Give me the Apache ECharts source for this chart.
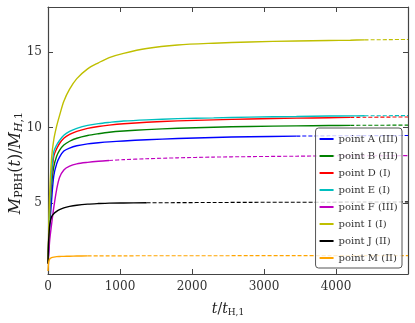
<!DOCTYPE html>
<html>
<head>
<meta charset="utf-8">
<script src="https://cdn.jsdelivr.net/npm/echarts@6/dist/echarts.min.js"></script>
<style>
  html, body { margin: 0; padding: 0; background: #fff; }
  #main { width: 415px; height: 323px; }
</style>
</head>
<body>
<div id="main"></div>
<script>
// 时间网格 t / t_H,1
var times = [0, 10, 25, 50, 80, 120, 160, 220, 300, 400, 550, 700, 850, 1050, 1370, 1800, 2300, 2800, 3450, 3900, 4200, 4400, 5000];

// M_PBH(t) / M_H,1 for each point
var pointA = [1.0, 2.0, 3.5, 5.2, 6.8, 7.6, 8.05, 8.45, 8.65, 8.8, 8.93, 9.0, 9.06, 9.12, 9.2, 9.28, 9.35, 9.4, 9.44, 9.46, 9.47, 9.47, 9.48];
var pointB = [1.0, 2.5, 4.3, 6.2, 7.4, 8.1, 8.5, 8.85, 9.1, 9.3, 9.48, 9.6, 9.7, 9.78, 9.87, 9.96, 10.03, 10.08, 10.12, 10.14, 10.15, 10.16, 10.17];
var pointD = [1.0, 2.7, 4.6, 6.7, 8.1, 8.6, 8.95, 9.3, 9.55, 9.75, 9.95, 10.08, 10.17, 10.26, 10.36, 10.45, 10.52, 10.58, 10.63, 10.66, 10.68, 10.69, 10.71];
var pointE = [1.0, 2.8, 4.8, 7.0, 8.4, 8.85, 9.15, 9.5, 9.75, 9.95, 10.15, 10.27, 10.35, 10.44, 10.52, 10.6, 10.65, 10.7, 10.74, 10.77, 10.78, 10.79, 10.8];
var pointF = [1.0, 1.6, 2.6, 3.6, 4.7, 5.9, 6.7, 7.2, 7.45, 7.6, 7.7, 7.77, 7.82, 7.88, 7.94, 8.0, 8.05, 8.08, 8.11, 8.13, 8.14, 8.14, 8.15];
var pointI = [1.0, 3.2, 5.8, 8.0, 9.2, 10.1, 10.8, 11.75, 12.55, 13.25, 13.9, 14.3, 14.65, 14.93, 15.25, 15.48, 15.6, 15.68, 15.75, 15.78, 15.8, 15.82, 15.85];
var pointJ = [1.0, 2.6, 3.6, 4.1, 4.3, 4.45, 4.56, 4.68, 4.78, 4.86, 4.93, 4.97, 5.0, 5.01, 5.02, 5.03, 5.04, 5.05, 5.06, 5.06, 5.07, 5.07, 5.08];
var pointM = [0.5, 1.1, 1.3, 1.38, 1.42, 1.45, 1.46, 1.47, 1.48, 1.49, 1.5, 1.5, 1.5, 1.5, 1.51, 1.51, 1.51, 1.52, 1.52, 1.52, 1.52, 1.52, 1.52];

// 模拟结束的时间 (之后是虚线)
var solidEnd = [3450, 4200, 4200, 4400, 850, 4400, 1370, 550];

var names = ['point A (III)', 'point B (III)', 'point D (I)', 'point E (I)', 'point F (III)', 'point I (I)', 'point J (II)', 'point M (II)'];
var colors = ['#0000ff', '#008000', '#ff0000', '#00bfbf', '#bf00bf', '#bfbf00', '#000000', '#ffa500'];
var values = [pointA, pointB, pointD, pointE, pointF, pointI, pointJ, pointM];

var xTicks = [0, 1000, 2000, 3000, 4000];
var yTicks = [5, 10, 15];

(function () {
  var myChart = echarts.init(document.getElementById('main'));
  var font = 'DejaVu Serif';
  var axisColor = '#444';

  var series = [];
  values.forEach(function (vals, k) {
    var solid = [], dashed = [];
    times.forEach(function (t, i) {
      if (t <= solidEnd[k]) solid.push([t, vals[i]]);
      if (t >= solidEnd[k]) dashed.push([t, vals[i]]);
    });
    series.push({
      name: names[k], type: 'line', data: solid,
      showSymbol: false, symbol: 'none', smooth: 0.3,
      lineStyle: { color: colors[k], width: 1.4 }, itemStyle: { color: colors[k] },
      z: 2
    });
    series.push({
      name: names[k], type: 'line', data: dashed,
      showSymbol: false, symbol: 'none', smooth: 0.3,
      lineStyle: { color: colors[k], width: 1.1, type: [4, 2] }, itemStyle: { color: colors[k] },
      z: 2
    });
  });

  var tick = { show: true, inside: true, length: 5, lineStyle: { color: axisColor, width: 1 } };
  var line = { show: true, onZero: false, lineStyle: { color: axisColor, width: 1.2 } };

  var rich = {
    i: { fontFamily: font, fontStyle: 'italic', fontSize: 14, color: '#222' },
    n: { fontFamily: font, fontSize: 14, color: '#222' },
    s: { fontFamily: font, fontSize: 9, color: '#222', padding: [7, 0, 0, 0] }
  };

  var option = {
    animation: false,
    grid: { left: 48, right: 7, top: 7, bottom: 49, outerBoundsMode: 'none', containLabel: false },
    legend: {
      orient: 'vertical', right: 13, top: 128, z: 20,
      data: names,
      itemWidth: 14, itemHeight: 2, itemGap: 5,
      padding: [5, 4, 4, 3],
      backgroundColor: 'rgba(255,255,255,0.8)',
      borderColor: '#555', borderWidth: 1, borderRadius: 3,
      textStyle: { fontFamily: font, fontSize: 10, color: '#333', lineHeight: 12 }
    },
    graphic: [{
      type: 'text', left: 8, top: 112, z: 30,
      style: {
        text: '{i|M}{s|PBH}{n|(}{i|t}{n|)/}{i|M}{si|H}{s|,1}',
        rich: {
          i: { fontFamily: font, fontStyle: 'italic', fontSize: 16, fill: '#222' },
          n: { fontFamily: font, fontSize: 16, fill: '#222' },
          s: { fontFamily: font, fontSize: 11, fill: '#222', padding: [7, 0, 0, 0] },
          si: { fontFamily: font, fontStyle: 'italic', fontSize: 11, fill: '#222', padding: [7, 0, 0, 0] }
        }
      },
      rotation: Math.PI / 2
    }],
    xAxis: [{
      type: 'value', min: 0, max: 5000, interval: 1000, position: 'bottom',
      axisLine: line, axisTick: tick, splitLine: { show: false },
      axisLabel: {
        customValues: xTicks, fontFamily: font, fontSize: 12, color: '#333', margin: 7,
        formatter: function (v) { return String(v); }
      },
      name: '{i|t}{n|/}{i|t}{s|H,1}', nameLocation: 'middle', nameGap: 27,
      nameTextStyle: { rich: rich }
    }, {
      type: 'value', min: 0, max: 5000, interval: 1000, position: 'top',
      axisLine: line, axisTick: tick, splitLine: { show: false }, axisLabel: { show: false }
    }],
    yAxis: [{
      type: 'value', min: 0.3, max: 18, position: 'left',
      axisLine: line, splitLine: { show: false },
      axisTick: { show: true, inside: true, length: 5, customValues: yTicks, lineStyle: { color: axisColor } },
      axisLabel: { customValues: yTicks, fontFamily: font, fontSize: 12, color: '#333', margin: 6 }
    }, {
      type: 'value', min: 0.3, max: 18, position: 'right',
      axisLine: line, splitLine: { show: false },
      axisTick: { show: true, inside: true, length: 5, customValues: yTicks, lineStyle: { color: axisColor } },
      axisLabel: { show: false }
    }],
    series: series
  };

  myChart.setOption(option);
})();
</script>
</body>
</html>
